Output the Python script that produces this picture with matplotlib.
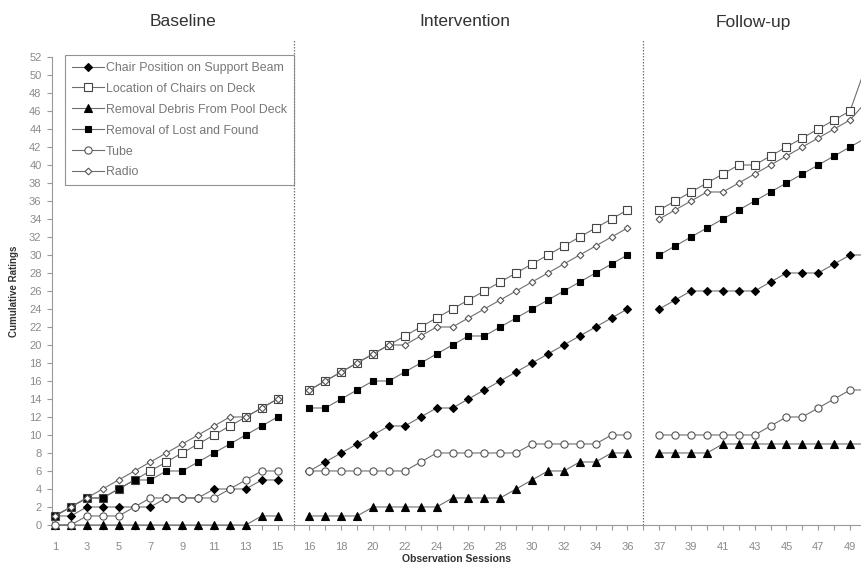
import matplotlib
matplotlib.use("Agg")
import matplotlib.pyplot as plt
import numpy as np

plt.rcParams['font.family'] = ['Liberation Sans', 'DejaVu Sans']

# Phases: name, first session, last session
phase_names = ["Baseline", "Intervention", "Follow-up"]
phase_first = [1, 16, 37]
phase_last = [15, 36, 50]

sessions = list(range(1, 51))

chair = [1, 1, 2, 2, 2, 2, 2, 3, 3, 3, 4, 4, 4, 5, 5,
         6, 7, 8, 9, 10, 11, 11, 12, 13, 13, 14, 15, 16, 17, 18, 19, 20, 21, 22, 23, 24,
         24, 25, 26, 26, 26, 26, 26, 27, 28, 28, 28, 29, 30, 30]
location = [1, 2, 3, 3, 4, 5, 6, 7, 8, 9, 10, 11, 12, 13, 14,
            15, 16, 17, 18, 19, 20, 21, 22, 23, 24, 25, 26, 27, 28, 29, 30, 31, 32, 33, 34, 35,
            35, 36, 37, 38, 39, 40, 40, 41, 42, 43, 44, 45, 46, 51]
debris = [0, 0, 0, 0, 0, 0, 0, 0, 0, 0, 0, 0, 0, 1, 1,
          1, 1, 1, 1, 2, 2, 2, 2, 2, 3, 3, 3, 3, 4, 5, 6, 6, 7, 7, 8, 8,
          8, 8, 8, 8, 9, 9, 9, 9, 9, 9, 9, 9, 9, 9]
lost_found = [1, 2, 3, 3, 4, 5, 5, 6, 6, 7, 8, 9, 10, 11, 12,
              13, 13, 14, 15, 16, 16, 17, 18, 19, 20, 21, 21, 22, 23, 24, 25, 26, 27, 28, 29, 30,
              30, 31, 32, 33, 34, 35, 36, 37, 38, 39, 40, 41, 42, 43]
tube = [0, 0, 1, 1, 1, 2, 3, 3, 3, 3, 3, 4, 5, 6, 6,
        6, 6, 6, 6, 6, 6, 6, 7, 8, 8, 8, 8, 8, 8, 9, 9, 9, 9, 9, 10, 10,
        10, 10, 10, 10, 10, 10, 10, 11, 12, 12, 13, 14, 15, 15]
radio = [1, 2, 3, 4, 5, 6, 7, 8, 9, 10, 11, 12, 12, 13, 14,
         15, 16, 17, 18, 19, 20, 20, 21, 22, 22, 23, 24, 25, 26, 27, 28, 29, 30, 31, 32, 33,
         34, 35, 36, 37, 37, 38, 39, 40, 41, 42, 43, 44, 45, 47]

series_labels = ["Chair Position on Support Beam", "Location of Chairs on Deck",
                 "Removal Debris From Pool Deck", "Removal of Lost and Found",
                 "Tube", "Radio"]
series_values = [chair, location, debris, lost_found, tube, radio]

# marker, size, face colour
styles = [
    dict(marker="D", ms=3.6, mfc="black", mec="black"),
    dict(marker="s", ms=5.2, mfc="white", mec="#444444"),
    dict(marker="^", ms=5.2, mfc="black", mec="black"),
    dict(marker="s", ms=5.0, mfc="black", mec="black"),
    dict(marker="o", ms=5.2, mfc="white", mec="#555555"),
    dict(marker="D", ms=3.4, mfc="white", mec="#555555"),
]


def position(s):
    """Horizontal slot for a session; one empty slot is left at each phase change."""
    for k, (a, b) in enumerate(zip(phase_first, phase_last)):
        if a <= s <= b:
            return s + k
    return s


fig = plt.figure(figsize=(8.62, 5.75), dpi=100)
ax = fig.add_axes([0.0603, 0.087, 0.9397, 0.8139])

line_color = "#6e6e6e"
for label, vals, st in zip(series_labels, series_values, styles):
    for k, (a, b) in enumerate(zip(phase_first, phase_last)):
        xs = [position(s) for s in sessions if a <= s <= b]
        ys = [v for s, v in zip(sessions, vals) if a <= s <= b]
        ax.plot(xs, ys, color=line_color, lw=0.8, marker=st["marker"], ms=st["ms"],
                mfc=st["mfc"], mec=st["mec"], mew=0.8,
                label=label if k == 0 else None, zorder=3, clip_on=False)

# phase change lines
for k in range(1, len(phase_first)):
    xline = phase_last[k - 1] + k
    ax.plot([xline, xline], [0, 54], color="#777777", lw=0.9, ls=(0, (1.2, 1.2)),
            clip_on=False, zorder=2)

ax.set_xlim(0.81, 51.75)
ax.set_ylim(0, 52)

# x ticks at every slot, labels at alternate sessions of each phase
ax.set_xticks(range(1, 52))
xlabels = [""] * 51
for k, (a, b) in enumerate(zip(phase_first, phase_last)):
    for s in range(a, b + 1, 2):
        p = position(s)
        if p <= 51:
            xlabels[p - 1] = str(s)
ax.set_xticklabels(xlabels)
ax.set_yticks(range(0, 53, 2))

ax.tick_params(axis="both", direction="out", length=3.5, width=0.8, color="#999999",
               labelcolor="#8a8a8a", labelsize=8)
ax.tick_params(axis="x", pad=9)
ax.tick_params(axis="y", pad=4)

for side in ["top", "right"]:
    ax.spines[side].set_visible(False)
for side in ["left", "bottom"]:
    ax.spines[side].set_color("#999999")
    ax.spines[side].set_linewidth(0.8)

ax.set_xlabel("Observation Sessions", fontsize=7.5, fontweight="bold", color="#333333",
              labelpad=1)
ax.set_ylabel("Cumulative Ratings", fontsize=7, fontweight="bold", color="#333333",
              labelpad=7)

# phase titles
title_x = [183, 465, 753]
for name, px in zip(phase_names, title_x):
    fig.text(px / 862, 1 - 22 / 575, name, ha="center", va="center", fontsize=12.5,
             color="#333333")

leg = ax.legend(loc="upper left", bbox_to_anchor=(0.0165, 1.004), fontsize=8.9,
                frameon=True, fancybox=False, edgecolor="#777777", handlelength=2.6,
                handletextpad=0.15, labelspacing=0.72, borderpad=0.55, borderaxespad=0)
leg.get_frame().set_linewidth(0.8)
for t in leg.get_texts():
    t.set_color("#777777")

fig.savefig("out.png", dpi=100)
